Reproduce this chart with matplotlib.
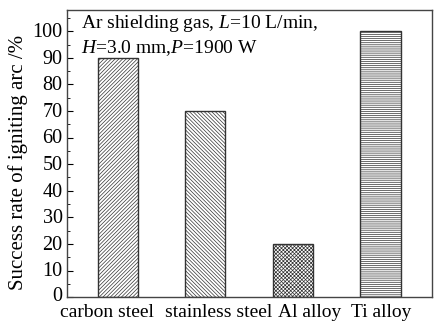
import matplotlib
matplotlib.use('Agg')
import matplotlib.pyplot as plt
from matplotlib.ticker import MultipleLocator
from matplotlib.transforms import offset_copy

# data
materials = ['carbon steel', 'stainless steel', 'Al alloy', 'Ti alloy']
success_rate = [90, 70, 20, 100]
hatches = ['/' * 9, '\\' * 9, 'x' * 9, '-' * 8]
y_ticks = list(range(0, 101, 10))
# the category labels in the source are not centred under their bars (pixels)
label_shift = [-11, 13, 17, 1]

plt.rcParams['font.family'] = 'Liberation Serif'
plt.rcParams['mathtext.fontset'] = 'custom'
plt.rcParams['mathtext.rm'] = 'Liberation Serif'
plt.rcParams['mathtext.it'] = 'Liberation Serif:italic'
plt.rcParams['hatch.color'] = '#a0a0a0'
plt.rcParams['hatch.linewidth'] = 0.5

fig = plt.figure(figsize=(4.37, 3.24), dpi=100)
ax = fig.add_axes([0.153, 0.083, 0.836, 0.886])

x = list(range(len(materials)))
bars = ax.bar(x, success_rate, width=0.46, color='white', edgecolor='#333333', linewidth=1.0)
for bar, h in zip(bars, hatches):
    bar.set_hatch(h)

ax.set_xlim(-0.58, 3.59)
ax.set_ylim(0, 108)
ax.set_xticks(x)
ax.set_xticklabels([])
# category names drawn under the bars, shifted like in the source figure
for xi, name, dx in zip(x, materials, label_shift):
    tr = offset_copy(ax.get_xaxis_transform(), fig=fig, x=dx, y=-7, units='dots')
    ax.text(xi, 0, name, transform=tr, ha='center', va='top', fontsize=14)
ax.set_yticks(y_ticks)
ax.yaxis.set_minor_locator(MultipleLocator(5))
ax.tick_params(axis='x', length=0)
ax.tick_params(axis='y', which='major', direction='in', length=4, labelsize=14.5, pad=3)
ax.tick_params(axis='y', which='minor', direction='in', length=2)
# y tick labels sit a little above their ticks, the "0" most of all
for lab, v in zip(ax.get_yticklabels(), y_ticks):
    up = 7 if v == 0 else 3
    lab.set_transform(lab.get_transform() + offset_copy(ax.transData, fig=fig, x=0, y=up, units='dots') - ax.transData)
for s in ax.spines.values():
    s.set_linewidth(1.0)
    s.set_color('#444444')

ax.set_ylabel('Success rate of igniting arc /%', fontsize=15)
ax.yaxis.set_label_coords(-0.107, 0.47)

ax.text(0.04, 0.99, 'Ar shielding gas, $\\it{L}$=10 L/min,\n$\\it{H}$=3.0 mm,$\\it{P}$=1900 W',
        transform=ax.transAxes, ha='left', va='top', fontsize=14, linespacing=1.3)

fig.savefig('out.png', dpi=100)
